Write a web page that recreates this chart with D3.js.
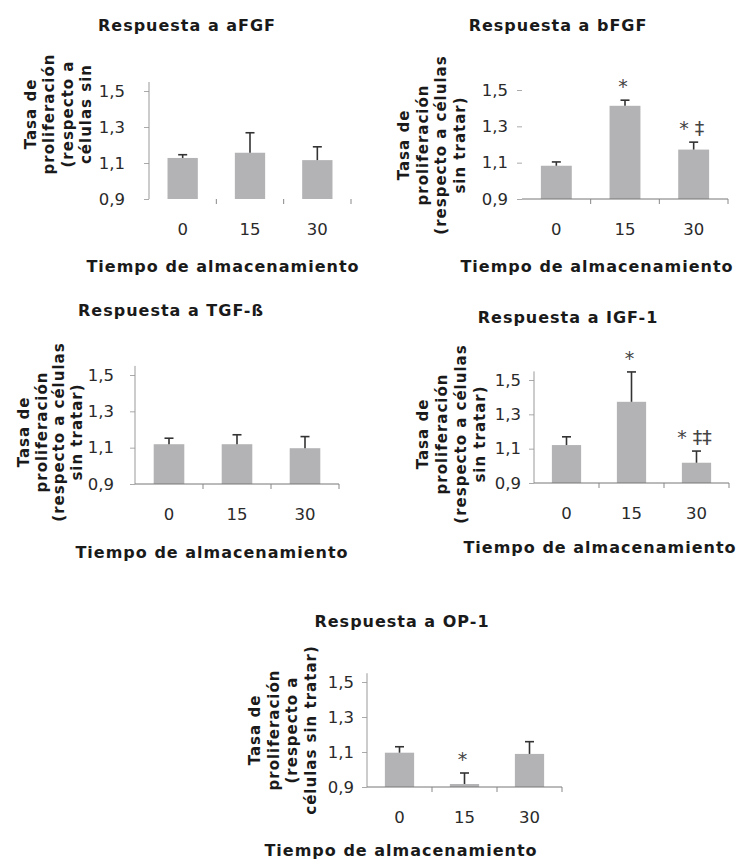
<!DOCTYPE html>
<html>
<head>
<meta charset="utf-8">
<script src="https://cdn.jsdelivr.net/npm/d3@7"></script>
<style>
  body { margin: 0; background: #fff; }
  svg { display: block; }
  .ttl { font-family: "DejaVu Sans", Verdana, sans-serif; font-weight: bold; font-size: 16px; letter-spacing: 1px; fill: #1a1a1a; }
  .ytl { font-family: "DejaVu Sans", Verdana, sans-serif; font-weight: bold; font-size: 15px; letter-spacing: 1px; fill: #1a1a1a; }
  .tick text { font-family: "DejaVu Sans", Verdana, sans-serif; font-size: 16.5px; fill: #2a2a2a; }
  .mark { font-family: "DejaVu Sans", sans-serif; font-size: 19px; fill: #444; }
</style>
</head>
<body>
<script>
/* Storage time categories (days) and the y tick values */
var categories = ["0", "15", "30"];
var yTicks = [0.9, 1.1, 1.3, 1.5];

/* Panel titles */
var titles = ["Respuesta a aFGF", "Respuesta a bFGF", "Respuesta a TGF-ß", "Respuesta a IGF-1", "Respuesta a OP-1"];
var xTitle = "Tiempo de almacenamiento";

/* y axis titles, one entry per line */
var yTitleA = ["Tasa de", "proliferación", "(respecto a", "células sin"];
var yTitleB = ["Tasa de", "proliferación", "(respecto a células", "sin tratar)"];
var yTitleC = ["Tasa de", "proliferación", "(respecto a", "células sin tratar)"];

/* Mean proliferation rate and its error (upper whisker) per storage time */
var afgfValues = [1.128, 1.157, 1.116];
var afgfErrors = [0.018, 0.111, 0.074];
var bfgfValues = [1.083, 1.413, 1.172];
var bfgfErrors = [0.021, 0.031, 0.041];
var tgfValues  = [1.119, 1.119, 1.097];
var tgfErrors  = [0.033, 0.052, 0.064];
var igfValues  = [1.121, 1.373, 1.018];
var igfErrors  = [0.048, 0.174, 0.068];
var opValues   = [1.096, 0.917, 1.089];
var opErrors   = [0.034, 0.063, 0.070];

/* Significance marks above the bars */
var afgfMarks = ["", "", ""];
var bfgfMarks = ["", "*", "* ‡"];
var tgfMarks  = ["", "", ""];
var igfMarks  = ["", "*", "* ‡‡"];
var opMarks   = ["", "*", ""];

/* Where each panel sits on the page */
var layouts = [
    {left: 149, right: 351, bottom: 199, y15: 91,  titleX: 187, titleY: 31,  xTitleX: 223, xTitleY: 272, yTitleX: 36,  yTitleY: 114, lineGap: 18.3, labelGap: 19, xLine: false, yLine: true},
    {left: 522, right: 728, bottom: 199, y15: 90,  titleX: 558, titleY: 31,  xTitleX: 597, xTitleY: 272, yTitleX: 409, yTitleY: 145, lineGap: 18.5, labelGap: 9,  xLine: true,  yLine: false},
    {left: 135, right: 339, bottom: 484, y15: 375, titleX: 171, titleY: 316, xTitleX: 212, xTitleY: 558, yTitleX: 29,  yTitleY: 432, lineGap: 17.5, labelGap: 16, xLine: true,  yLine: true},
    {left: 534, right: 729, bottom: 483, y15: 380, titleX: 568, titleY: 323, xTitleX: 600, xTitleY: 553, yTitleX: 428, yTitleY: 434, lineGap: 19,   labelGap: 8,  xLine: true,  yLine: true},
    {left: 367, right: 562, bottom: 787, y15: 682, titleX: 402, titleY: 627, xTitleX: 401, xTitleY: 856, yTitleX: 260, yTitleY: 730, lineGap: 18.5, labelGap: 8,  xLine: true,  yLine: true}
];

var panels = [
    {title: titles[0], yTitle: yTitleA, values: afgfValues, errors: afgfErrors, marks: afgfMarks},
    {title: titles[1], yTitle: yTitleB, values: bfgfValues, errors: bfgfErrors, marks: bfgfMarks},
    {title: titles[2], yTitle: yTitleB, values: tgfValues,  errors: tgfErrors,  marks: tgfMarks},
    {title: titles[3], yTitle: yTitleB, values: igfValues,  errors: igfErrors,  marks: igfMarks},
    {title: titles[4], yTitle: yTitleC, values: opValues,   errors: opErrors,   marks: opMarks}
];

var svg = d3.select("body").append("svg")
    .attr("width", 736)
    .attr("height", 860);

svg.append("rect").attr("width", 736).attr("height", 860).attr("fill", "#fff");

var fmt = function(d){ return d3.format(".1f")(d).replace(".", ","); };

panels.forEach(function(p, i){
    drawPanel(p, layouts[i]);
});

/**
 * Draws one bar chart with its error bars, axes and titles
 */
function drawPanel(p, L){
    var g = svg.append("g");

    var x = d3.scaleBand()
        .domain(categories)
        .range([L.left, L.right])
        .paddingInner(0.55)
        .paddingOuter(0.275);
    var y = d3.scaleLinear()
        .domain([0.9, 1.5])
        .range([L.bottom, L.y15]);

    var rows = categories.map(function(c, k){
        return {cat: c, value: p.values[k], err: p.errors[k], mark: p.marks[k]};
    });

    // bars
    g.selectAll(".bar")
        .data(rows)
        .enter().append("rect")
        .attr("class", "bar")
        .attr("x", function(d){ return x(d.cat); })
        .attr("width", x.bandwidth())
        .attr("y", function(d){ return y(d.value); })
        .attr("height", function(d){ return y(0.9) - y(d.value); })
        .attr("fill", "#b3b3b5");

    // error bars (upper only)
    var eb = g.selectAll(".err")
        .data(rows)
        .enter().append("g")
        .attr("class", "err")
        .attr("stroke", "#333")
        .attr("stroke-width", 1.6);
    eb.append("line")
        .attr("x1", function(d){ return x(d.cat) + x.bandwidth() / 2; })
        .attr("x2", function(d){ return x(d.cat) + x.bandwidth() / 2; })
        .attr("y1", function(d){ return y(d.value); })
        .attr("y2", function(d){ return y(d.value + d.err); });
    eb.append("line")
        .attr("x1", function(d){ return x(d.cat) + x.bandwidth() / 2 - 4.5; })
        .attr("x2", function(d){ return x(d.cat) + x.bandwidth() / 2 + 4.5; })
        .attr("y1", function(d){ return y(d.value + d.err); })
        .attr("y2", function(d){ return y(d.value + d.err); });

    // significance marks
    g.selectAll(".mark")
        .data(rows.filter(function(d){ return d.mark; }))
        .enter().append("text")
        .attr("class", "mark")
        .attr("text-anchor", "middle")
        .attr("x", function(d){ return x(d.cat) + x.bandwidth() / 2 - 2; })
        .attr("y", function(d){ return y(d.value + d.err) - 7; })
        .text(function(d){ return d.mark; });

    // y axis
    var ya = g.append("g")
        .attr("transform", "translate(" + L.left + ",0)")
        .call(d3.axisLeft(y).tickValues(yTicks).tickSize(5).tickPadding(L.labelGap).tickFormat(fmt));
    ya.select(".domain").remove();
    ya.selectAll(".tick line").attr("stroke", "#aaa");
    if(L.yLine){
        ya.append("line")
            .attr("y1", y(0.9)).attr("y2", y(1.55))
            .attr("stroke", "#999");
    }

    // x axis: labels under the bars, ticks between the categories
    var xa = g.append("g")
        .attr("transform", "translate(0," + L.bottom + ")")
        .call(d3.axisBottom(x).tickSize(0).tickPadding(24));
    xa.select(".domain").remove();
    if(L.xLine){
        xa.append("line")
            .attr("x1", L.left).attr("x2", L.right)
            .attr("stroke", "#777");
    }
    xa.selectAll(".sep")
        .data(d3.range(1, categories.length + 1))
        .enter().append("line")
        .attr("class", "sep")
        .attr("x1", function(k){ return L.left + k * x.step(); })
        .attr("x2", function(k){ return L.left + k * x.step(); })
        .attr("y1", 0).attr("y2", 5)
        .attr("stroke", "#888");

    // titles
    g.append("text")
        .attr("class", "ttl")
        .attr("text-anchor", "middle")
        .attr("x", L.titleX).attr("y", L.titleY)
        .text(p.title);
    g.append("text")
        .attr("class", "ttl")
        .attr("text-anchor", "middle")
        .attr("x", L.xTitleX).attr("y", L.xTitleY)
        .text(xTitle);

    g.selectAll(".ytl")
        .data(p.yTitle)
        .enter().append("text")
        .attr("class", "ytl")
        .attr("text-anchor", "middle")
        .attr("transform", function(d, k){
            return "translate(" + (L.yTitleX + k * L.lineGap) + "," + L.yTitleY + ") rotate(-90)";
        })
        .text(function(d){ return d; });
}
</script>
</body>
</html>
